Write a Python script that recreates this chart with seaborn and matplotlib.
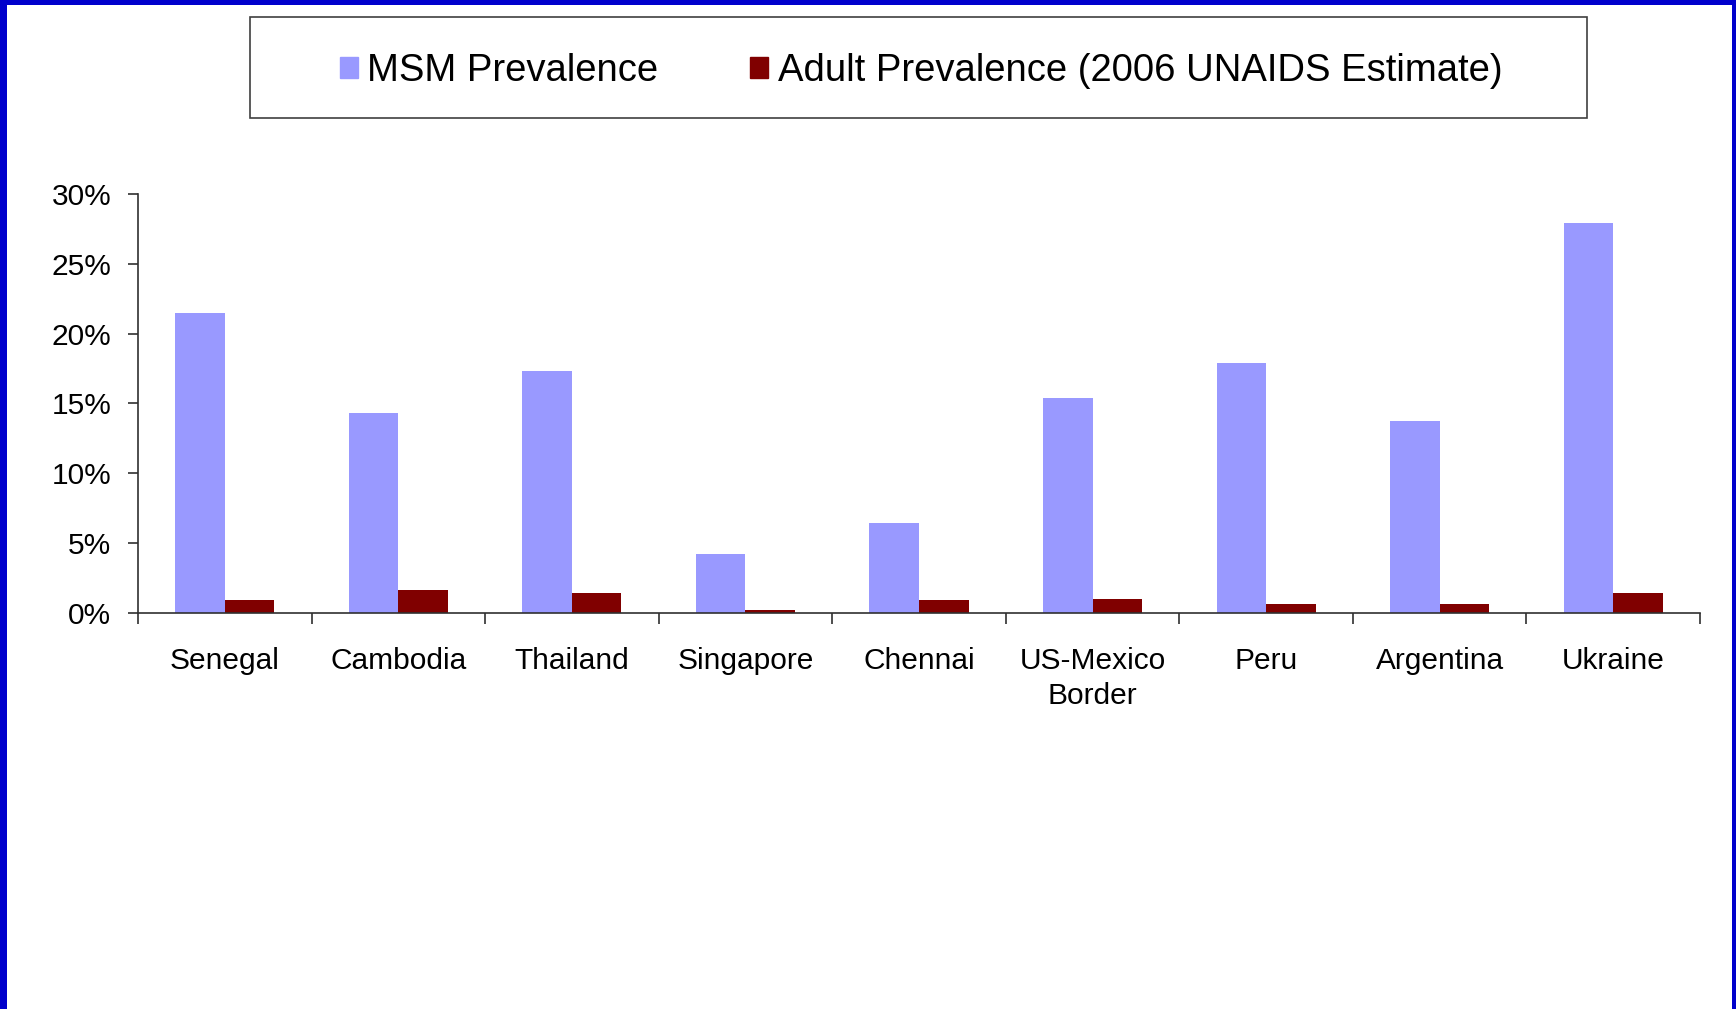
import numpy as np
import pandas as pd
import matplotlib.pyplot as plt
import matplotlib.patches as mpatches
from matplotlib.ticker import FuncFormatter
import seaborn as sns

# data (percent)
countries = ["Senegal", "Cambodia", "Thailand", "Singapore", "Chennai",
             "US-Mexico\nBorder", "Peru", "Argentina", "Ukraine"]
msm = [21.5, 14.3, 17.3, 4.2, 6.4, 15.4, 17.9, 13.7, 27.9]
adult = [0.9, 1.6, 1.4, 0.2, 0.9, 1.0, 0.6, 0.6, 1.4]
series = ["MSM Prevalence", "Adult Prevalence (2006 UNAIDS Estimate)"]
colors = ["#9999FF", "#800000"]

df = pd.DataFrame({
    "country": countries * 2,
    "value": msm + adult,
    "series": [series[0]] * len(countries) + [series[1]] * len(countries),
})

sns.set_style("white")
plt.rcParams["font.family"] = ["Liberation Sans", "DejaVu Sans"]
plt.rcParams["text.color"] = "black"

W, H = 1736, 1009
fig = plt.figure(figsize=(W / 100, H / 100), dpi=100)
ax = fig.add_axes([138 / W, 1 - 612.7 / H, (1700 - 138) / W, (612.7 - 194) / H])

sns.barplot(data=df, x="country", y="value", hue="series", palette=colors,
            width=0.571, gap=0, dodge=True, linewidth=0, errorbar=None,
            saturation=1, legend=False, ax=ax)

ax.set_xlim(-0.5, 8.5)
ax.set_ylim(0, 30)
ax.set_yticks(np.arange(0, 31, 5))
ax.yaxis.set_major_formatter(FuncFormatter(lambda v, p: f"{v:.0f}%"))
ax.set_xlabel("")
ax.set_ylabel("")

for s in ["top", "right"]:
    ax.spines[s].set_visible(False)
for s in ["left", "bottom"]:
    ax.spines[s].set_color("#303030")
    ax.spines[s].set_linewidth(1.2)

ax.tick_params(axis="y", which="major", direction="out", length=7.2, width=1.2,
               color="#303030", pad=12, labelsize=21.5, labelcolor="black", left=True)
ax.tick_params(axis="x", which="major", length=0, pad=25, labelsize=21.5,
               labelcolor="black")
ax.set_xticks(np.arange(-0.5, 9, 1), minor=True)
ax.tick_params(axis="x", which="minor", direction="out", length=8, width=1.2,
               color="#303030", bottom=True)
for lab in ax.get_xticklabels():
    lab.set_linespacing(1.3)

# legend with its own frame
handles = [mpatches.Patch(color=c, label=l) for c, l in zip(colors, series)]
leg = fig.legend(handles=handles, loc="center", bbox_to_anchor=(921 / W, 1 - 71 / H),
                 ncol=2, frameon=False, fontsize=27.5, handlelength=0.47,
                 handleheight=0.47, handletextpad=0.25, columnspacing=2.4)
for t in leg.get_texts():
    t.set_color("black")
fig.add_artist(mpatches.Rectangle((250 / W, 1 - 118 / H), (1587 - 250) / W, (118 - 17) / H,
                                  transform=fig.transFigure, fill=False,
                                  edgecolor="#404040", linewidth=1.2))

# blue slide border
blue = "#0000CC"
fig.add_artist(mpatches.Rectangle((0, 0), 7 / W, 1, transform=fig.transFigure,
                                  color=blue, lw=0))
fig.add_artist(mpatches.Rectangle((0, 1 - 5 / H), 1, 5 / H, transform=fig.transFigure,
                                  color=blue, lw=0))
fig.add_artist(mpatches.Rectangle((1 - 4 / W, 0), 4 / W, 1, transform=fig.transFigure,
                                  color=blue, lw=0))

fig.savefig("out.png", dpi=100)
